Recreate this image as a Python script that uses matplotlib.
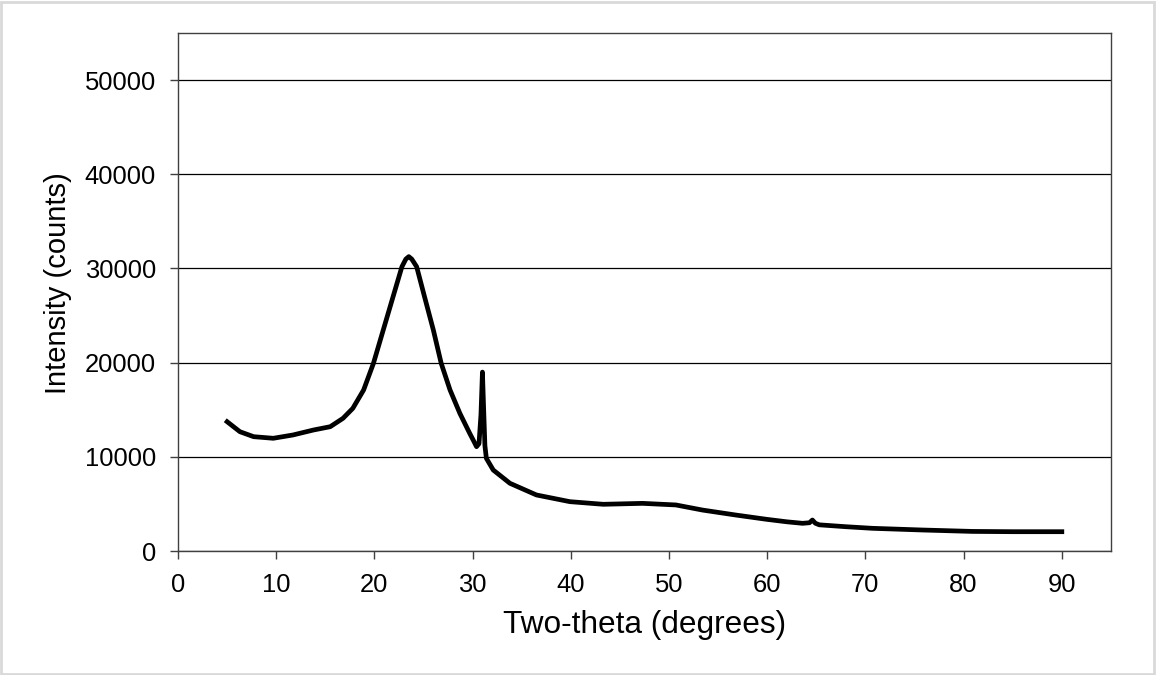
import numpy as np
import matplotlib
matplotlib.use('Agg')
import matplotlib.pyplot as plt
from matplotlib.patches import Rectangle

# XRD pattern (two-theta in degrees, intensity in counts)
two_theta = [5.0, 6.3, 7.7, 9.7, 11.7, 13.8, 15.5, 16.8, 17.8, 18.9, 19.9, 20.9,
             21.9, 22.8, 23.2, 23.5, 23.8, 24.3, 25.1, 26.0, 26.8, 27.7, 28.7,
             29.7, 30.1, 30.4, 30.65, 30.85, 31.0, 31.1, 31.25, 31.4, 32.1, 33.8,
             36.5, 39.9, 43.3, 47.3, 50.7, 53.4, 56.8, 59.9, 62.0, 63.6, 64.3,
             64.6, 64.9, 65.3, 68.0, 70.7, 75.8, 80.9, 85.0, 90.0]
intensity = [13730, 12670, 12140, 11970, 12320, 12850, 13200, 14090, 15150, 17100,
             19930, 23470, 27010, 30190, 31000, 31260, 31000, 30190, 27010, 23470,
             19930, 17100, 14620, 12500, 11700, 11080, 11400, 14500, 19000, 15800,
             11200, 9840, 8600, 7190, 5950, 5240, 4960, 5060, 4890, 4350, 3820,
             3370, 3100, 2940, 3000, 3290, 2950, 2780, 2580, 2410, 2230, 2080,
             2050, 2050]

plt.rcParams['font.family'] = ['Liberation Sans', 'DejaVu Sans']

fig = plt.figure(figsize=(11.56, 6.75), dpi=100)
ax = fig.add_axes([0.154, 0.1837, 0.807, 0.7673])

ax.plot(two_theta, intensity, color='black', lw=3.4, solid_joinstyle='round')

ax.set_xlim(0, 95)
ax.set_ylim(0, 55000)
ax.set_xticks(np.arange(0, 91, 10))
ax.set_yticks(np.arange(0, 50001, 10000))
ax.yaxis.grid(True, color='black', lw=0.9)
ax.set_axisbelow(True)

for s in ax.spines.values():
    s.set_color('#404040')
    s.set_linewidth(1.0)
ax.tick_params(direction='out', length=6, width=1.0, color='#404040',
               labelsize=18.4, pad=10)

ax.set_xlabel('Two-theta (degrees)', fontsize=22.8, labelpad=9)
ax.set_ylabel('Intensity (counts)', fontsize=21)
ax.yaxis.set_label_coords(-0.114, 0.518)

# light grey frame round the whole picture
fig.patches.append(Rectangle((0.001, 0.002), 0.997, 0.995, transform=fig.transFigure,
                             fill=False, edgecolor='#d9d9d9', lw=2))

fig.savefig('out.png', dpi=100)
